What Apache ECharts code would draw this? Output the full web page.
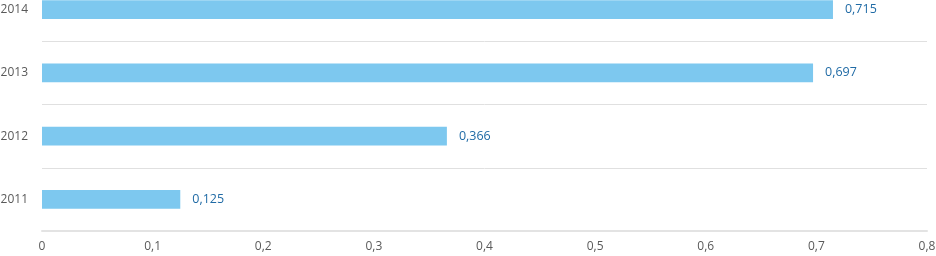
<!DOCTYPE html>
<html><head><meta charset="utf-8">
<script src="https://cdn.jsdelivr.net/npm/echarts@6/dist/echarts.min.js"></script>
<style>html,body{margin:0;padding:0;background:#fff;overflow:hidden}#c{width:936px;height:278px;margin-top:-22px}</style>
</head><body><div id="c"></div>
<script>
const categories = ['2011', '2012', '2013', '2014'];
const values = [0.125, 0.366, 0.697, 0.715];
const fmt = v => String(v).replace('.', ',');
const chart = echarts.init(document.getElementById('c'));
chart.setOption({
  animation: false,
  grid: { left: 42, right: 9, top: 0, bottom: 25, containLabel: false, outerBoundsMode: 'none' },
  xAxis: {
    type: 'value', min: 0, max: 0.8, interval: 0.1,
    axisLine: { show: true, lineStyle: { color: '#e3e3e3', width: 2 } },
    axisTick: { show: false },
    splitLine: { show: false },
    axisLabel: { color: '#595959', fontFamily: 'Open Sans', fontSize: 12, margin: 10, formatter: v => v === 0 ? '0' : fmt(Math.round(v * 10) / 10) }
  },
  yAxis: {
    type: 'category', data: categories,
    axisLine: { show: false }, axisTick: { show: false },
    splitLine: { show: true, lineStyle: { color: '#e0e0e0', width: 1 } },
    axisLabel: { color: '#595959', fontFamily: 'Open Sans', fontSize: 12, margin: 14 }
  },
  series: [{
    type: 'bar', data: values, barWidth: '30%',
    itemStyle: { color: '#7dc8ef' },
    label: { show: true, position: 'right', distance: 12, color: '#1f6aa5', fontFamily: 'Open Sans', fontSize: 12.5, formatter: p => fmt(p.value) }
  }]
});
</script></body></html>
